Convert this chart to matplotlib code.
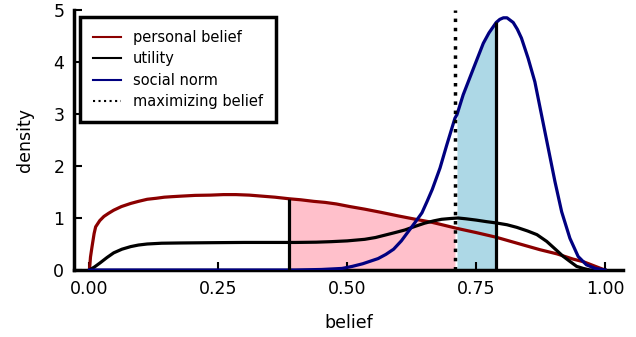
import numpy as np
import matplotlib
matplotlib.use("Agg")
import matplotlib.pyplot as plt
from matplotlib.lines import Line2D

# personal belief density (dark red)
belief_x = [0.0, 0.002, 0.005, 0.009, 0.012, 0.02, 0.028, 0.037, 0.047, 0.062,
            0.08, 0.095, 0.112, 0.13, 0.145, 0.16, 0.177, 0.205, 0.235, 0.26,
            0.284, 0.31, 0.335, 0.36, 0.387, 0.41, 0.435, 0.457, 0.479, 0.505,
            0.534, 0.565, 0.599, 0.63, 0.663, 0.68, 0.709, 0.713, 0.75, 0.789,
            0.842, 0.874, 0.907, 0.938, 0.958, 0.984, 1.0]
belief_y = [0.0, 0.25, 0.45, 0.70, 0.83, 0.95, 1.03, 1.09, 1.15, 1.22,
            1.28, 1.32, 1.36, 1.38, 1.40, 1.41, 1.42, 1.435, 1.44, 1.45,
            1.45, 1.44, 1.42, 1.40, 1.37, 1.35, 1.32, 1.30, 1.27, 1.22,
            1.17, 1.11, 1.04, 0.98, 0.92, 0.88, 0.81, 0.80, 0.72, 0.63,
            0.48, 0.39, 0.31, 0.21, 0.16, 0.06, 0.0]

# utility curve (black)
util_x = [0.0, 0.01, 0.021, 0.034, 0.047, 0.063, 0.08, 0.095, 0.112, 0.14,
          0.177, 0.235, 0.30, 0.40, 0.44, 0.469, 0.50, 0.534, 0.555, 0.573,
          0.593, 0.612, 0.632, 0.650, 0.668, 0.683, 0.70, 0.715, 0.73, 0.75,
          0.77, 0.789, 0.81, 0.829, 0.85, 0.868, 0.887, 0.906, 0.918, 0.93,
          0.945, 0.958, 0.971, 1.0]
util_y = [0.0, 0.06, 0.14, 0.24, 0.33, 0.40, 0.45, 0.48, 0.50, 0.515,
          0.52, 0.525, 0.53, 0.53, 0.535, 0.545, 0.56, 0.59, 0.625, 0.67,
          0.72, 0.77, 0.84, 0.90, 0.945, 0.975, 0.99, 1.0, 0.985, 0.96,
          0.93, 0.905, 0.87, 0.82, 0.75, 0.68, 0.55, 0.38, 0.27, 0.18,
          0.07, 0.03, 0.0, 0.0]

# social norm density (navy)
norm_x = [0.0, 0.30, 0.40, 0.45, 0.49, 0.51, 0.53, 0.545, 0.56, 0.575,
          0.59, 0.605, 0.62, 0.632, 0.645, 0.655, 0.665, 0.680, 0.693, 0.709,
          0.713, 0.725, 0.745, 0.764, 0.775, 0.789, 0.796, 0.803, 0.81, 0.822,
          0.83, 0.838, 0.851, 0.864, 0.877, 0.890, 0.903, 0.916, 0.932, 0.948,
          0.964, 0.981, 1.0]
norm_y = [0.0, 0.0, 0.0, 0.01, 0.03, 0.07, 0.12, 0.17, 0.22, 0.30,
          0.40, 0.56, 0.76, 0.92, 1.10, 1.32, 1.55, 1.96, 2.40, 2.92,
          2.99, 3.37, 3.88, 4.36, 4.56, 4.76, 4.82, 4.85, 4.85, 4.76,
          4.63, 4.46, 4.07, 3.62, 2.98, 2.34, 1.70, 1.12, 0.61, 0.26,
          0.10, 0.03, 0.0]

lower_cut = 0.387   # left edge of the pink region
max_belief = 0.709  # maximizing belief
upper_cut = 0.789   # right edge of the blue region

belief_x, belief_y = np.array(belief_x), np.array(belief_y)
norm_x, norm_y = np.array(norm_x), np.array(norm_y)

fig = plt.figure(figsize=(6.36, 3.37), dpi=100)
ax = fig.add_axes([74 / 636, 67 / 337, 549 / 636, 260 / 337])

pink = (belief_x >= lower_cut) & (belief_x <= max_belief)
ax.fill_between(belief_x[pink], 0, belief_y[pink], color="pink", lw=0, zorder=1)
blue = (norm_x > max_belief) & (norm_x <= upper_cut)
ax.fill_between(norm_x[blue], 0, norm_y[blue], color="lightblue", lw=0, zorder=1)

ax.plot(belief_x, belief_y, color="darkred", lw=2.3, zorder=3)
ax.plot(util_x, util_y, color="black", lw=2.3, zorder=3)
ax.plot(norm_x, norm_y, color="navy", lw=2.3, zorder=3)

ax.vlines(lower_cut, 0, belief_y[belief_x == lower_cut][0], color="black", lw=2.3, zorder=4)
ax.vlines(upper_cut, 0, norm_y[norm_x == upper_cut][0], color="black", lw=2.3, zorder=4)
ax.axvline(max_belief, color="black", ls=":", lw=2.5, zorder=4)

ax.set_xlim(-0.03, 1.035)
ax.set_ylim(0, 5)
ax.set_xticks([0.0, 0.25, 0.5, 0.75, 1.0])
ax.set_xticklabels(["0.00", "0.25", "0.50", "0.75", "1.00"])
ax.set_yticks(range(6))
ax.tick_params(direction="in", length=6, width=1.5, labelsize=12.5, pad=7)
ax.set_xlabel("belief", fontsize=12.5, labelpad=12)
ax.set_ylabel("density", fontsize=12.5, labelpad=14)

for side in ("top", "right"):
    ax.spines[side].set_visible(False)
for side in ("left", "bottom"):
    ax.spines[side].set_linewidth(2.5)

handles = [
    Line2D([], [], color="darkred", lw=1.5),
    Line2D([], [], color="black", lw=1.5),
    Line2D([], [], color="navy", lw=1.5),
    Line2D([], [], color="black", lw=1.5, ls=":"),
]
labels = ["personal belief", "utility", "social norm", "maximizing belief"]
leg = ax.legend(handles, labels, loc="upper left", bbox_to_anchor=(0.011, 0.975),
                borderaxespad=0, fontsize=10.5, handlelength=1.9, borderpad=0.9,
                labelspacing=0.45, fancybox=False, framealpha=1, edgecolor="black")
leg.get_frame().set_linewidth(2.5)

fig.savefig("out.png", dpi=100)
